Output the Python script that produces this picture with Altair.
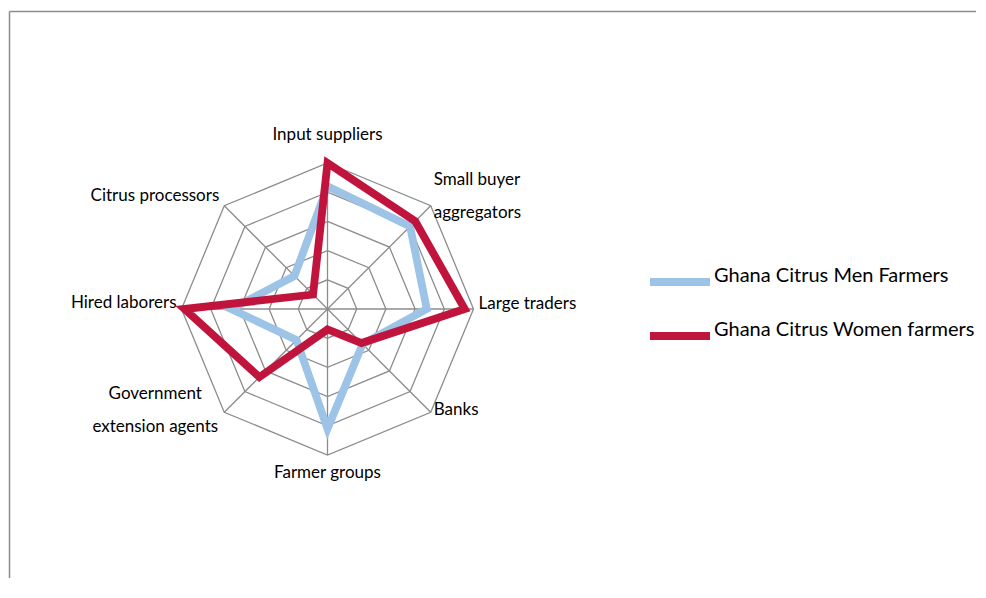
import altair as alt
import pandas as pd

# ---- data ----
categories = ["Input suppliers", "Small buyer\naggregators", "Large traders", "Banks",
              "Farmer groups", "Government\nextension agents", "Hired laborers",
              "Citrus processors"]
men_values = [4.2, 4.0, 3.4, 1.7, 4.1, 1.5, 3.3, 1.6]
women_values = [5.0, 4.25, 4.7, 1.65, 0.7, 3.3, 4.9, 0.7]
series_names = ["Ghana Citrus Men Farmers", "Ghana Citrus Women farmers"]
series_colors = ["#9DC3E6", "#C0143C"]
ring_levels = [1, 2, 3, 4, 5]
max_value = 5

n = len(categories)
df = pd.DataFrame({"category": categories, "idx": list(range(n)),
                   series_names[0]: men_values, series_names[1]: women_values})
grid_df = pd.DataFrame([{"ring": r, "idx": i} for r in ring_levels for i in range(n)])
axis_df = pd.DataFrame({"category": categories, "idx": list(range(n))})

# ---- layout ----
W, H = 968, 570
K = 146 / max_value          # pixels per unit
cx, cy = 319.5, 301          # centre in chart pixels
xs = alt.Scale(domain=[-cx / K, (W - cx) / K], nice=False, zero=False)
ys = alt.Scale(domain=[-(H - cy) / K, cy / K], nice=False, zero=False)
ang = f"2*PI*datum.idx/{n}"
FONT = "Lato"
GRID = "#8C8C8C"

grid = alt.Chart(grid_df).transform_calculate(
    gx=f"datum.ring*sin({ang})", gy=f"datum.ring*cos({ang})"
).mark_line(interpolate="linear-closed", color=GRID, strokeWidth=1.3).encode(
    x=alt.X("gx:Q", scale=xs, axis=None),
    y=alt.Y("gy:Q", scale=ys, axis=None),
    detail="ring:N", order="idx:Q")

spokes = alt.Chart(axis_df).transform_calculate(
    x0="0", y0="0", x1=f"{max_value}*sin({ang})", y1=f"{max_value}*cos({ang})"
).mark_rule(color=GRID, strokeWidth=1.3).encode(
    x=alt.X("x0:Q", scale=xs, axis=None), y=alt.Y("y0:Q", scale=ys, axis=None),
    x2="x1:Q", y2="y1:Q")

series = alt.Chart(df).transform_fold(series_names, as_=["series", "value"]).transform_calculate(
    px=f"datum.value*sin({ang})", py=f"datum.value*cos({ang})"
).mark_line(interpolate="linear-closed", strokeWidth=7.8, strokeJoin="miter").encode(
    x=alt.X("px:Q", scale=xs, axis=None),
    y=alt.Y("py:Q", scale=ys, axis=None),
    color=alt.Color("series:N", scale=alt.Scale(domain=series_names, range=series_colors),
                    legend=alt.Legend(title=None, orient="none", legendX=638, legendY=240,
                                      symbolType="stroke", symbolSize=3600,
                                      symbolStrokeWidth=8, labelFont=FONT,
                                      labelFontSize=20, labelColor="black",
                                      labelBaseline="alphabetic",
                                      labelOffset=0, rowPadding=4, labelLimit=0,
                                      padding=0)),
    order="idx:Q")


def label_layer(sel, align, dx, dy):
    return alt.Chart(axis_df).transform_filter(
        alt.FieldOneOfPredicate(field="idx", oneOf=sel)
    ).transform_calculate(
        lx=f"{max_value}*sin({ang})", ly=f"{max_value}*cos({ang})"
    ).mark_text(align=align, baseline="middle", dx=dx, dy=dy, font=FONT, fontSize=17,
                lineBreak="\n", lineHeight=33, color="black").encode(
        x=alt.X("lx:Q", scale=xs, axis=None), y=alt.Y("ly:Q", scale=ys, axis=None),
        text="category:N")


labels = [
    label_layer([0], "center", 0, -28),
    label_layer([1], "left", 3, -25.5),
    label_layer([2], "left", 5, -5),
    label_layer([3], "left", 3, -2),
    label_layer([4], "center", 0, 18),
    label_layer([5], "center", -69, -18.5),
    label_layer([6], "right", -5, -6),
    label_layer([7], "right", -5, -10),
]

one = alt.Data(values=[{"a": 0}])
frame_top = alt.Chart(one).mark_rule(color=GRID, strokeWidth=1.5).encode(
    x=alt.value(1.5), x2=alt.value(W), y=alt.value(3.5))
frame_left = alt.Chart(one).mark_rule(color=GRID, strokeWidth=1.5).encode(
    x=alt.value(1.5), y=alt.value(3.5), y2=alt.value(H))

chart = alt.layer(frame_top, frame_left, grid, spokes, series, *labels).properties(
    width=W, height=H, autosize=alt.AutoSizeParams(type="none"), padding=0
).configure_view(stroke=None)

chart.save("out.html", embed_options={"renderer": "svg", "actions": False})
